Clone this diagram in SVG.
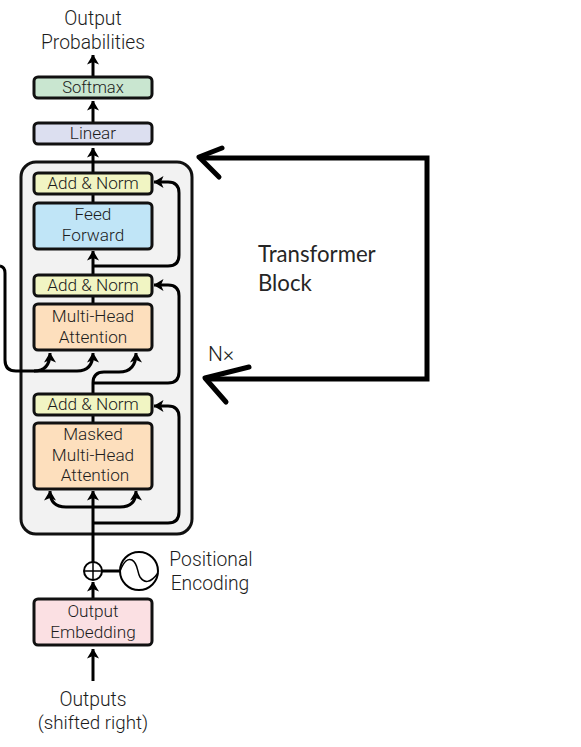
<svg xmlns="http://www.w3.org/2000/svg" width="581" height="747" viewBox="0 0 581 747">
<style>
text{font-family:"Roboto","Liberation Sans",sans-serif;font-weight:300;fill:#1c1c1c;text-anchor:middle}
.s{font-size:17.2px}
.l{font-size:19.3px}
.b{stroke:#111;stroke-width:3;}
.c{fill:none;stroke:#000;stroke-width:3}
.h{fill:none;stroke:#000;stroke-width:5;stroke-linecap:round;stroke-linejoin:round}
.hl{fill:none;stroke:#000;stroke-width:5;stroke-linejoin:miter}
.t{font-family:"Lato",sans-serif;font-weight:400;font-size:22.2px;text-anchor:start;fill:#262626}
</style>
<defs>
<marker id="a" viewBox="0 0 10 12" refX="9.5" refY="6" markerWidth="10" markerHeight="12" markerUnits="userSpaceOnUse" orient="auto"><path d="M0,0L10,6L0,12L2.5,6Z" fill="#000"/></marker>
</defs>
<rect width="581" height="747" fill="#fff"/>
<g id="block"><rect x="21" y="162" width="171" height="372" rx="15" fill="#f2f2f2" stroke="#111" stroke-width="3"/></g>
<g id="connectors">
<path class="c" marker-end="url(#a)" d="M93,76V55"/>
<path class="c" marker-end="url(#a)" d="M93,122V101"/>
<path class="c" marker-end="url(#a)" d="M93,172V148"/>
<path class="c" d="M93,202V194"/>
<path class="c" marker-end="url(#a)" d="M93,274V251"/>
<path class="c" d="M93,303V296"/>
<path class="c" marker-end="url(#a)" d="M93,393V383Q93,372 104,372H119Q136,372 136,353"/>
<path class="c" d="M93,422V415"/>
<path class="c" marker-end="url(#a)" d="M93,562V491"/>
<path class="c" marker-end="url(#a)" d="M93,598V582"/>
<path class="c" marker-end="url(#a)" d="M93,681V649"/>
<path class="c" marker-end="url(#a)" d="M93,266H168Q179,266 179,255V193Q179,182 168,182H154"/>
<path class="c" marker-end="url(#a)" d="M93,383H168Q179,383 179,372V296Q179,285 168,285H154"/>
<path class="c" marker-end="url(#a)" d="M93,523H168Q179,523 179,512V417Q179,406 168,406H154"/>
<path class="c" marker-end="url(#a)" d="M0,266Q5,267 5,273V360Q5,371 16,371H34Q50,371 50,353"/>
<path class="c" marker-end="url(#a)" d="M34,371H77Q93,371 93,353"/>
<path class="c" marker-end="url(#a)" d="M66,507Q50,507 50,491"/>
<path class="c" marker-end="url(#a)" d="M66,507H120Q136,507 136,491"/>
<path class="c" d="M102,571H120"/>
</g>
<g id="softmax"><rect class="b" x="34" y="77" width="118" height="21" rx="4" fill="#c9e6d0"/><text class="s" x="93" y="93" style="font-size:16.6px">Softmax</text></g>
<g id="linear"><rect class="b" x="34" y="123" width="118" height="21" rx="4" fill="#dcdff0"/><text class="s" x="93" y="139">Linear</text></g>
<g id="addnorm3"><rect class="b" x="34" y="173" width="118" height="21" rx="4" fill="#f1f5c3"/><text class="s" x="93" y="189">Add &amp; Norm</text></g>
<g id="feedforward"><rect class="b" x="34" y="203" width="118" height="46" rx="4" fill="#c0e5f7"/><text class="s" x="93" y="220">Feed</text><text class="s" x="93" y="241">Forward</text></g>
<g id="addnorm2"><rect class="b" x="34" y="275" width="118" height="21" rx="4" fill="#f1f5c3"/><text class="s" x="93" y="291">Add &amp; Norm</text></g>
<g id="mha"><rect class="b" x="34" y="304" width="118" height="46" rx="4" fill="#fddfbd"/><text class="s" x="93" y="322">Multi-Head</text><text class="s" x="93" y="343">Attention</text></g>
<g id="addnorm1"><rect class="b" x="34" y="394" width="118" height="21" rx="4" fill="#f1f5c3"/><text class="s" x="93" y="410">Add &amp; Norm</text></g>
<g id="masked"><rect class="b" x="34" y="423" width="118" height="66" rx="4" fill="#fddfbd"/><text class="s" x="93" y="440">Masked</text><text class="s" x="93" y="461">Multi-Head</text><text class="s" x="95" y="481">Attention</text></g>
<g id="embedding"><rect class="b" x="34" y="599" width="118" height="46" rx="4" fill="#fbe0e3"/><text class="s" x="93" y="617">Output</text><text class="s" x="93" y="638">Embedding</text></g>
<g id="adder"><circle cx="93" cy="571" r="9" fill="#fff" stroke="#000" stroke-width="2"/><path d="M93,562V580M84,571H102" stroke="#000" stroke-width="1.5" fill="none"/></g>
<g id="positional"><circle cx="139" cy="571" r="19" fill="#fff" stroke="#000" stroke-width="2"/><path d="M120,571C124,561 128,558 132,560C138,563 137,572 140,577C144,583 150,584 158,573" fill="none" stroke="#000" stroke-width="1.5"/><text class="l" x="211" y="566">Positional</text><text class="l" x="210" y="590">Encoding</text></g>
<g id="output-label"><text class="l" x="93" y="25">Output</text><text class="l" x="93" y="49">Probabilities</text></g>
<g id="input-label"><text class="l" x="93" y="706">Outputs</text><text class="l" x="93" y="729" style="font-size:18.8px">(shifted right)</text></g>
<text x="221" y="361" style="font-size:21px">N×</text>
<g id="annotation">
<path class="hl" d="M203,158H427V379H205"/>
<path class="h" d="M222,148L199,157L219,177"/>
<path class="h" d="M249,367L205,378L226,402"/>
<text class="t" x="258" y="262">Transformer</text>
<text class="t" x="258" y="291">Block</text>
</g>
</svg>
